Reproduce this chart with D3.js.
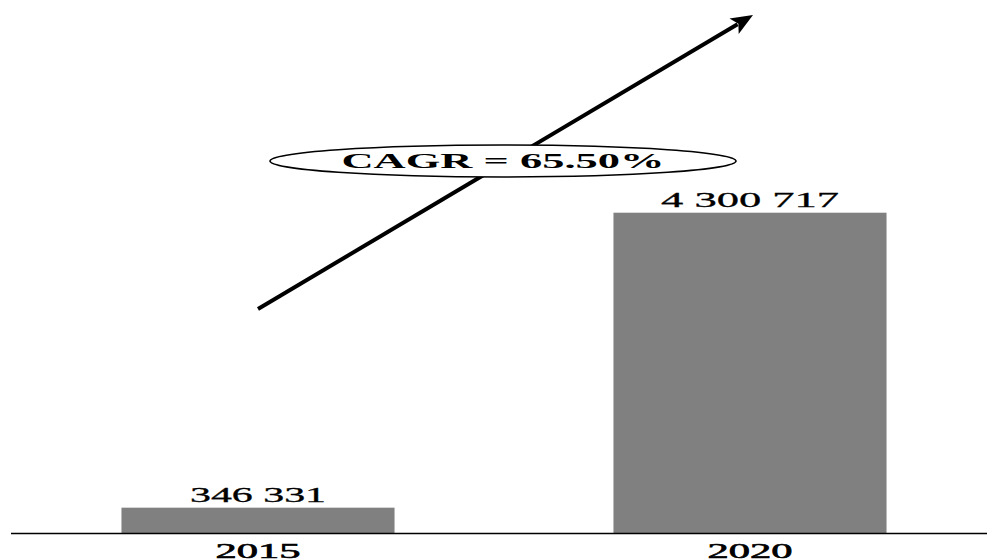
<!DOCTYPE html>
<html>
<head>
<meta charset="utf-8">
<script src="https://cdn.jsdelivr.net/npm/d3@7"></script>
<style>
  html, body { margin: 0; padding: 0; background: #fff; }
  svg { display: block; }
  text { font-family: "Liberation Serif", "Times New Roman", Times, serif; }
</style>
</head>
<body>
<svg id="chart" width="987" height="560"></svg>
<script>
const categories = ["2015", "2020"];
const values = [346331, 4300717];
const valueLabels = ["346 331", "4 300 717"];
const cagrLabel = "CAGR = 65.50%";

const W = 987, H = 560;
const svg = d3.select("#chart");

const x = d3.scaleBand().domain(categories).range([12, 996])
  .paddingInner(0.445).paddingOuter(0.2225);
const y = d3.scaleLinear().domain([0, d3.max(values)]).range([533.5, 212.7]);

// bars
svg.selectAll("rect.bar").data(values).join("rect")
  .attr("class", "bar")
  .attr("x", (d, i) => x(categories[i]))
  .attr("width", x.bandwidth())
  .attr("y", d => y(d))
  .attr("height", d => y(0) - y(d))
  .attr("fill", "#808080");

// baseline axis
const axis = d3.axisBottom(x).tickSize(0).tickPadding(0);
const gAxis = svg.append("g").attr("transform", `translate(0,${y(0)})`).call(axis);
gAxis.attr("font-family", null);
gAxis.select(".domain").attr("d", `M11,0H${W}`).attr("stroke", "#000").attr("stroke-width", 1.6);
gAxis.selectAll(".tick text")
  .attr("y", 24.5).attr("dy", null)
  .attr("font-size", 21).attr("fill", "#000")
  .attr("stroke", "#000").attr("stroke-width", 0.6)
  .attr("x", -42.5).attr("text-anchor", "start")
  .attr("textLength", 85).attr("lengthAdjust", "spacingAndGlyphs");

// value labels
svg.selectAll("text.val").data(values).join("text")
  .attr("class", "val")
  .attr("x", (d, i) => x(categories[i]) + x.bandwidth() / 2 - (i === 0 ? 68 : 89))
  .attr("y", d => y(d) - 6)
  .attr("font-size", 22).attr("fill", "#000")
  .attr("stroke", "#000").attr("stroke-width", 0.3)
  .attr("textLength", (d, i) => i === 0 ? 136 : 178)
  .attr("lengthAdjust", "spacingAndGlyphs")
  .text((d, i) => valueLabels[i]);

// CAGR arrow
const c0 = x(categories[0]) + x.bandwidth() / 2;
const c1 = x(categories[1]) + x.bandwidth() / 2;
const x0 = c0, y0 = 309, x1 = c1 + 3, y1 = 15;
const dx = x1 - x0, dy = y1 - y0, len = Math.hypot(dx, dy);
const ux = dx / len, uy = dy / len, px = -uy, py = ux;
const headLen = 22, headW = 9;
const bx = x1 - ux * headLen, by = y1 - uy * headLen;
svg.append("line")
  .attr("x1", x0).attr("y1", y0).attr("x2", bx + ux * 4).attr("y2", by + uy * 4)
  .attr("stroke", "#000").attr("stroke-width", 4);
svg.append("path")
  .attr("d", `M${x1},${y1}L${bx + px * headW},${by + py * headW}L${bx + ux * 5},${by + uy * 5}L${bx - px * headW},${by - py * headW}Z`)
  .attr("fill", "#000");

// ellipse with label
const ex = (c0 + c1) / 2 - 1, ey = 161;
svg.append("ellipse")
  .attr("cx", ex).attr("cy", ey).attr("rx", 233).attr("ry", 16)
  .attr("fill", "#fff").attr("stroke", "#000").attr("stroke-width", 1.6);
svg.append("text")
  .attr("x", ex - 161.5).attr("y", 168)
  .attr("font-size", 22).attr("font-weight", "bold").attr("fill", "#000")
  .attr("textLength", 323).attr("lengthAdjust", "spacingAndGlyphs")
  .text(cagrLabel);
</script>
</body>
</html>
